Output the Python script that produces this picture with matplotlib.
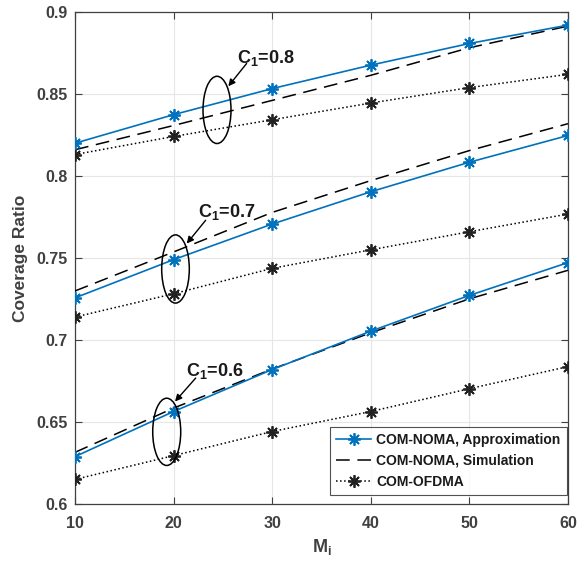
import matplotlib
matplotlib.use("Agg")
import matplotlib.pyplot as plt
from matplotlib.patches import Ellipse

plt.rcParams['font.family'] = ['Liberation Sans', 'DejaVu Sans']
plt.rcParams['mathtext.fontset'] = 'custom'
plt.rcParams['mathtext.rm'] = 'Liberation Sans:bold'
plt.rcParams['mathtext.bf'] = 'Liberation Sans:bold'
plt.rcParams['mathtext.it'] = 'Liberation Sans:bold'

M = [10, 20, 30, 40, 50, 60]

approx_08 = [0.820, 0.8374, 0.8533, 0.8676, 0.8808, 0.892]
sim_08 = [0.816, 0.8308, 0.8461, 0.8614, 0.8782, 0.8914]
ofdma_08 = [0.8131, 0.8241, 0.8343, 0.8445, 0.8539, 0.862]

approx_07 = [0.7257, 0.749, 0.7707, 0.7904, 0.8084, 0.8247]
sim_07 = [0.7299, 0.7537, 0.7778, 0.7972, 0.8155, 0.8319]
ofdma_07 = [0.714, 0.7282, 0.7437, 0.755, 0.766, 0.7768]

approx_06 = [0.6289, 0.6564, 0.682, 0.7054, 0.7272, 0.7472]
sim_06 = [0.6315, 0.6585, 0.6823, 0.7044, 0.7251, 0.7425]
ofdma_06 = [0.615, 0.6295, 0.6442, 0.6564, 0.6703, 0.6838]

x_ticks = [10, 20, 30, 40, 50, 60]
y_ticks = [0.6, 0.65, 0.7, 0.75, 0.8, 0.85, 0.9]
y_tick_labels = ['0.6', '0.65', '0.7', '0.75', '0.8', '0.85', '0.9']

blue = '#0072BD'
axcol = '#404040'
star = (8, 2, 0)

fig = plt.figure(figsize=(5.88, 5.63), dpi=100)
ax = fig.add_axes([0.1276, 0.1048, 0.9660 - 0.1276, 0.9787 - 0.1048])

labels = ['COM-NOMA, Approximation', 'COM-NOMA, Simulation', 'COM-OFDMA']
groups = [(approx_08, sim_08, ofdma_08), (approx_07, sim_07, ofdma_07), (approx_06, sim_06, ofdma_06)]
for i, (a, s, o) in enumerate(groups):
    ax.plot(M, a, '-', color=blue, lw=1.2, marker=star, ms=9, mew=1.3,
            label=labels[0] if i == 0 else None, zorder=4)
    ax.plot(M, s, color='black', lw=1.1, dashes=(9, 5),
            label=labels[1] if i == 0 else None, zorder=3)
    ax.plot(M, o, ':', color='black', lw=1.1, marker=star, ms=9, mew=1.3,
            mfc='#222222', mec='#222222',
            label=labels[2] if i == 0 else None, zorder=3)

# annotation ellipses and arrows
ell = [((24.4, 0.8403), 2.84, 0.041), ((20.19, 0.7433), 2.8, 0.0416), ((19.3, 0.644), 2.84, 0.041)]
for c, w, h in ell:
    ax.add_patch(Ellipse(c, w, h, fill=False, ec='black', lw=1.1, zorder=5))

texts = [(r'C$_{1}$=0.8', (26.4, 0.8686), (25.55, 0.8547), (27.4, 0.8686)),
         (r'C$_{1}$=0.7', (22.47, 0.7753), (21.33, 0.7588), (23.25, 0.773)),
         (r'C$_{1}$=0.6', (21.26, 0.6778), (20.14, 0.6625), (22.24, 0.6768))]
for t, pos, tip, tail in texts:
    ax.text(pos[0], pos[1], t, fontsize=13, fontweight='bold', color='#1a1a1a',
            ha='left', va='baseline', zorder=6)
    ax.annotate('', xy=tip, xytext=tail,
                arrowprops=dict(arrowstyle='-|>', color='black', lw=1.0,
                                mutation_scale=10, shrinkA=0, shrinkB=0), zorder=6)

ax.set_xlim(10, 60)
ax.set_ylim(0.6, 0.9)
ax.set_xticks(x_ticks)
ax.set_yticks(y_ticks)
ax.set_yticklabels(y_tick_labels)
ax.grid(True, color='#e6e6e6', lw=0.8)
ax.set_axisbelow(True)
ax.tick_params(direction='in', length=5, width=0.8, top=True, right=True,
               colors=axcol, labelsize=11.5, pad=5)
ax.tick_params(axis='x', pad=9)
for lab in ax.get_xticklabels() + ax.get_yticklabels():
    lab.set_fontweight('bold')
for sp in ax.spines.values():
    sp.set_color(axcol)
    sp.set_linewidth(0.9)

ax.set_xlabel(r'M$_{\mathrm{i}}$', fontsize=13, fontweight='bold', color=axcol, labelpad=4)
ax.set_ylabel('Coverage Ratio', fontsize=12.5, fontweight='bold', color=axcol, labelpad=6)

leg = ax.legend(loc='lower right', bbox_to_anchor=(0.997, 0.018), borderaxespad=0,
                fontsize=10, frameon=True, fancybox=False, edgecolor='#262626',
                handlelength=2.5, labelspacing=0.5, borderpad=0.45, handletextpad=0.36)
leg.get_frame().set_linewidth(0.8)
for t in leg.get_texts():
    t.set_fontweight('bold')
    t.set_color('#1a1a1a')

fig.savefig('out.png', dpi=100)
